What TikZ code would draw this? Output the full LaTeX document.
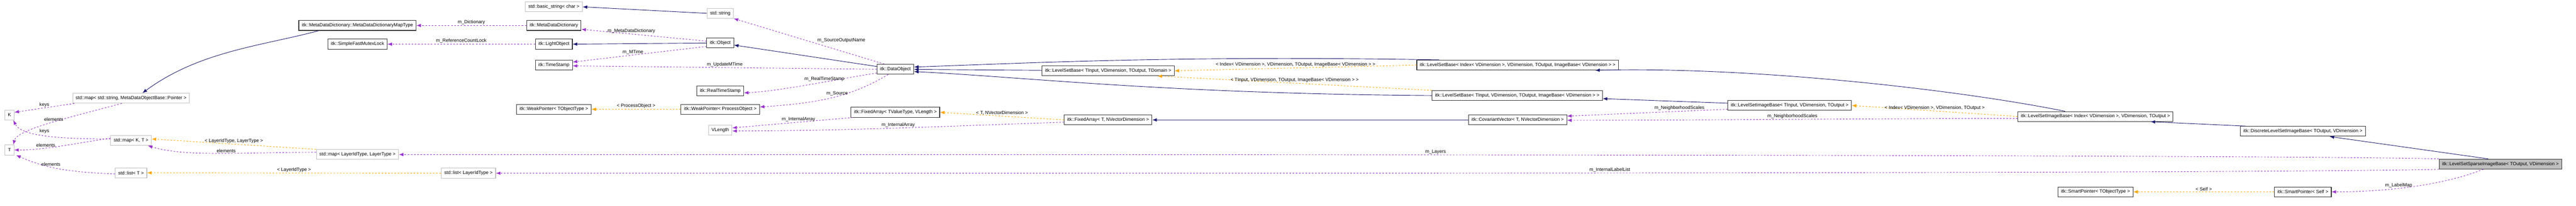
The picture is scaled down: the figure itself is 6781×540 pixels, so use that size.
\documentclass[tikz,border=0pt]{standalone}
\usepackage{fontspec}
\setmainfont{Liberation Sans}
\usetikzlibrary{arrows.meta,positioning}

\definecolor{inhblue}{RGB}{25,25,112}
\definecolor{useorchid}{RGB}{153,50,204}
\definecolor{tmplorange}{RGB}{255,165,0}
\definecolor{extgrey}{RGB}{191,191,191}

\tikzset{
  every node/.style={font=\fontsize{3.5}{4}\selectfont},
  box/.style={draw=black!80, line width=0.4pt, fill=white, minimum height=0.26cm, inner xsep=0.08cm, inner ysep=0pt},
  extbox/.style={box, draw=extgrey},
  mainbox/.style={box, fill=extgrey},
  lbl/.style={inner sep=0.5pt, fill=none},
  inh/.style={-{Latex[length=0.12cm,width=0.09cm]}, draw=inhblue, line width=0.35pt},
  usage/.style={-{Latex[length=0.12cm,width=0.09cm]}, draw=useorchid, dashed, line width=0.35pt, dash pattern=on 1.2pt off 1.2pt},
  tmpl/.style={-{Latex[length=0.12cm,width=0.09cm]}, draw=tmplorange, dashed, line width=0.35pt, dash pattern=on 1.2pt off 1.2pt},
}

\begin{document}
\begin{tikzpicture}[x=0.01cm,y=-0.01cm]
    \useasboundingbox (0,0) rectangle (6781,540);

    % std containers, far left
    \node[extbox] (K)      at (25,302)  {K};
    \node[extbox] (T)      at (25,394)  {T};
    \node[extbox] (mapstr) at (345,258) {std::map< std::string, MetaDataObjectBase::Pointer >};
    \node[extbox] (mapKT)  at (345,369) {std::map< K, T >};
    \node[extbox] (listT)  at (345,454) {std::list< T >};
    \node[extbox] (mapLL)  at (941,406) {std::map< LayerIdType, LayerType >};
    \node[extbox] (listLT) at (1233,455) {std::list< LayerIdType >};

    % object hierarchy
    \node[box]    (mdmap)    at (941,67)   {itk::MetaDataDictionary::MetaDataDictionaryMapType};
    \node[box]    (sfml)     at (941,116)  {itk::SimpleFastMutexLock};
    \node[extbox] (bstr)     at (1458,18)  {std::basic\_string< char >};
    \node[box]    (mdd)      at (1458,67)  {itk::MetaDataDictionary};
    \node[box]    (lightobj) at (1458,116) {itk::LightObject};
    \node[box]    (tstamp)   at (1458,171) {itk::TimeStamp};
    \node[box]    (wpT)      at (1458,287) {itk::WeakPointer< TObjectType >};
    \node[extbox] (stdstr)   at (1896,35)  {std::string};
    \node[box]    (object)   at (1896,113) {itk::Object};
    \node[box]    (rts)      at (1896,239) {itk::RealTimeStamp};
    \node[box]    (wpPO)     at (1896,287) {itk::WeakPointer< ProcessObject >};
    \node[extbox] (vlen)     at (1896,342) {VLength};
    \node[box]    (dataobj)  at (2357,182) {itk::DataObject};
    \node[box]    (farrTV)   at (2357,295) {itk::FixedArray< TValueType, VLength >};

    % level set classes
    \node[box] (lsbT)    at (2917,186) {itk::LevelSetBase< TInput, VDimension, TOutput, TDomain >};
    \node[box] (farrT)   at (2917,315) {itk::FixedArray< T, NVectorDimension >};
    \node[box] (lsbIdx)  at (3995,171) {itk::LevelSetBase< Index< VDimension >, VDimension, TOutput, ImageBase< VDimension > >};
    \node[box] (lsbTI)   at (3994,251) {itk::LevelSetBase< TInput, VDimension, TOutput, ImageBase< VDimension > >};
    \node[box] (covar)   at (3995,315) {itk::CovariantVector< T, NVectorDimension >};
    \node[box] (lsib)    at (4711,277) {itk::LevelSetImageBase< TInput, VDimension, TOutput >};
    \node[box] (lsibIdx) at (5516,306) {itk::LevelSetImageBase< Index< VDimension >, VDimension, TOutput >};
    \node[box] (spT)     at (5516,504) {itk::SmartPointer< TObjectType >};
    \node[box] (dlsib)   at (6062,345) {itk::DiscreteLevelSetImageBase< TOutput, VDimension >};
    \node[box] (spS)     at (6062,504) {itk::SmartPointer< Self >};
    \node[mainbox] (lssib) at (6582,431) {itk::LevelSetSparseImageBase< TOutput, VDimension >};

    % inheritance
    \draw[inh] ([xshift=0.53cm]mdmap.south west) .. controls +(-150,40) and +(150,-110) .. ([xshift=0.3cm]mapstr.north);
    \draw[inh] (stdstr.west) -- (bstr.east);
    \draw[inh] (object.west) -- (lightobj.east);
    \draw[inh] (dataobj) -- (object);
    \draw[inh] (lsbT) -- (dataobj);
    \draw[inh] ([xshift=0.6cm]lsbIdx.north west) .. controls +(-700,-12) and +(300,-10) .. ([yshift=0.06cm]dataobj.east);
    \draw[inh] (lsbTI.west) .. controls +(-700,-5) and +(300,15) .. ([yshift=-0.06cm]dataobj.east);
    \draw[inh] (lsib) -- (lsbTI);
    \draw[inh] ([xshift=-0.8cm]lsibIdx.north) .. controls +(-300,-60) and +(400,-10) .. ([xshift=-0.62cm]lsbIdx.south east);
    \draw[inh] ([xshift=0.15cm]dlsib.north west) -- ([xshift=-0.6cm]lsibIdx.south east);
    \draw[inh] ([xshift=1.3cm]lssib.north west) -- ([xshift=-0.95cm]dlsib.south east);
    \draw[inh] (covar.west) -- (farrT.east);

    % template instances
    \draw[tmpl] (lsbIdx.west) -- node[lbl,above] {< Index< VDimension >, VDimension, TOutput, ImageBase< VDimension > >} (lsbT.east);
    \draw[tmpl] (lsbTI.north west) -- node[lbl,above,pos=0.5] {< TInput, VDimension, TOutput, ImageBase< VDimension > >} ([xshift=-0.45cm]lsbT.south east);
    \draw[tmpl] (lsibIdx.west) -- node[lbl,above] {< Index< VDimension >, VDimension, TOutput >} (lsib.east);
    \draw[tmpl] (farrT.west) -- node[lbl,above] {< T, NVectorDimension >} (farrTV.east);
    \draw[tmpl] (wpPO.west) -- node[lbl,above] {< ProcessObject >} (wpT.east);
    \draw[tmpl] (spS.west) -- node[lbl,above] {< Self >} (spT.east);
    \draw[tmpl] (mapLL.north west) -- node[lbl,above] {< LayerIdType, LayerType >} ([yshift=0.04cm]mapKT.east);
    \draw[tmpl] (listLT.west) -- node[lbl,above] {< LayerIdType >} (listT.east);

    % usage
    \draw[usage] ([xshift=0.05cm]mapstr.south west) -- node[lbl,above,pos=0.5] {keys} ([yshift=0.07cm]K.east);
    \draw[usage] ([xshift=1.3cm]mapstr.south west) .. controls +(-150,40) and +(10,-40) .. ([xshift=0.1cm]T.north) node[lbl,pos=0.45,above] {elements};
    \draw[usage] ([yshift=0.04cm]mapKT.west) .. controls +(-150,0) and +(20,40) .. ([xshift=0.1cm]K.south) node[lbl,pos=0.55,above right] {keys};
    \draw[usage] ([yshift=0.06cm]mapKT.west) .. controls +(-100,15) and +(80,0) .. (T.east) node[lbl,pos=0.65,above] {elements};
    \draw[usage] ([yshift=-0.03cm]listT.west) .. controls +(-120,-5) and +(80,35) .. ([xshift=0.05cm]T.south east) node[lbl,pos=0.6,above] {elements};
    \draw[usage] ([yshift=0.06cm]mapLL.west) .. controls +(-200,0) and +(100,30) .. ([xshift=-0.1cm]mapKT.south east) node[lbl,pos=0.45,above] {elements};
    \draw[usage] (mdd.west) -- node[lbl,above] {m\_Dictionary} (mdmap.east);
    \draw[usage] (lightobj.west) -- node[lbl,above] {m\_ReferenceCountLock} (sfml.east);
    \draw[usage] ([yshift=0.05cm]object.west) -- node[lbl,above,pos=0.6] {m\_MetaDataDictionary} ([yshift=-0.1cm]mdd.east);
    \draw[usage] ([yshift=-0.09cm]object.west) -- node[lbl,above,pos=0.55] {m\_MTime} ([yshift=0.08cm]tstamp.east);
    \draw[usage] ([xshift=0.2cm]dataobj.north west) -- node[lbl,above right,pos=0.45] {m\_SourceOutputName} (stdstr.south east);
    \draw[usage] (dataobj.west) -- node[lbl,above,pos=0.5] {m\_UpdateMTime} ([yshift=-0.02cm]tstamp.east);
    \draw[usage] ([yshift=-0.1cm]dataobj.west) .. controls +(-100,15) and +(100,-5) .. ([yshift=-0.05cm]rts.east) node[lbl,above,pos=0.4] {m\_RealTimeStamp};
    \draw[usage] ([xshift=0.3cm]dataobj.south west) .. controls +(-100,60) and +(150,-10) .. ([yshift=0.06cm]wpPO.east) node[lbl,above,pos=0.45] {m\_Source};
    \draw[usage] ([xshift=0.05cm]farrTV.south west) -- node[lbl,above,pos=0.45] {m\_InternalArray} ([yshift=0.06cm]vlen.east);
    \draw[usage] ([yshift=-0.06cm]farrT.west) .. controls +(-300,10) and +(300,0) .. ([yshift=-0.02cm]vlen.east) node[lbl,above,pos=0.5] {m\_InternalArray};
    \draw[usage] ([yshift=-0.1cm]lsib.west) -- node[lbl,above,pos=0.3] {m\_NeighborhoodScales} ([yshift=0.1cm]covar.east);
    \draw[usage] ([yshift=-0.05cm]lsibIdx.west) .. controls +(-300,0) and +(300,0) .. ([yshift=-0.01cm]covar.east) node[lbl,above,pos=0.5] {m\_NeighborhoodScales};
    \draw[usage] (lssib.north west) .. controls +(-500,-12) and +(1500,0) .. (mapLL.east) node[lbl,above,pos=0.55] {m\_Layers};
    \draw[usage] (lssib.south west) .. controls +(-500,12) and +(1500,0) .. (listLT.east) node[lbl,above,pos=0.5] {m\_InternalLabelList};
    \draw[usage] ([xshift=-0.45cm]lssib.south) .. controls +(-100,40) and +(150,0) .. (spS.east) node[lbl,above,pos=0.6] {m\_LabelMap};
\end{tikzpicture}
\end{document}
